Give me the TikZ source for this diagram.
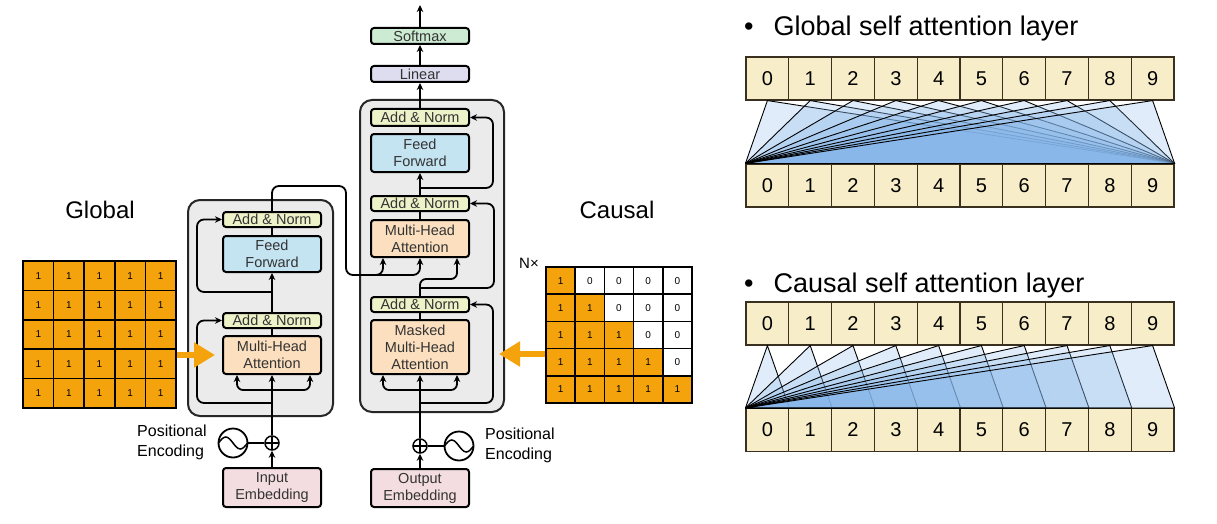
\documentclass[tikz,border=0pt]{standalone}
\usepackage{fontspec}
\setmainfont{Liberation Sans}
\usetikzlibrary{arrows.meta,positioning}
\definecolor{normfill}{HTML}{EEF2C8}
\definecolor{fffill}{HTML}{C4E4F2}
\definecolor{attfill}{HTML}{FBDFBF}
\definecolor{embfill}{HTML}{F3DDE0}
\definecolor{linfill}{HTML}{DEDDF0}
\definecolor{softfill}{HTML}{CDEAD3}
\definecolor{layerfill}{HTML}{EBEBEB}
\definecolor{labelgray}{HTML}{333333}
\definecolor{maskorange}{HTML}{F5A30C}
\definecolor{tokfill}{HTML}{F7EDC8}
\definecolor{tokline}{HTML}{3A3020}
\definecolor{fanblue}{RGB}{80,150,225}

\begin{document}
\begin{tikzpicture}[x=1pt,y=-1pt,>={Stealth[length=7pt,width=6.5pt]}]
\tikzstyle{block}=[draw=black,line width=2pt,rounded corners=3pt,minimum width=98pt,inner sep=0pt,align=center,text=labelgray,font=\fontsize{14.5}{17}\selectfont]
\tikzstyle{layerbox}=[draw=black!85,fill=layerfill,line width=2pt,rounded corners=12pt]
\tikzstyle{wire}=[line width=1.8pt]
\tikzstyle{flow}=[wire,->]
\tikzstyle{resid}=[flow,rounded corners=7pt]
\tikzstyle{addop}=[circle,draw,fill=white,line width=1.5pt,minimum size=14pt,inner sep=0pt,path picture={\draw[line width=1.3pt] (path picture bounding box.north) -- (path picture bounding box.south) (path picture bounding box.west) -- (path picture bounding box.east);}]
\tikzstyle{wave}=[circle,draw,fill=white,line width=1.8pt,minimum size=29pt,inner sep=0pt,path picture={\draw[line width=1.5pt] ([xshift=-14.5pt]path picture bounding box.center) sin ++(7.25pt,6pt) cos ++(7.25pt,-6pt) sin ++(7.25pt,-6pt) cos ++(7.25pt,6pt);}]
\tikzstyle{mcell}=[draw=black,line width=1.5pt,minimum width=30.6pt,minimum height=29.4pt,inner sep=0pt,font=\fontsize{10}{12}\selectfont]
\tikzstyle{ccell}=[mcell,minimum width=29.2pt,minimum height=27.2pt]
\tikzstyle{tok}=[draw=tokline,fill=tokfill,line width=1.1pt,minimum width=42.8pt,minimum height=43pt,inner sep=0pt,font=\fontsize{20}{24}\selectfont]
\tikzstyle{fan}=[draw=black,line width=0.9pt,fill=fanblue!70!white,fill opacity=0.25,line join=round]
\tikzstyle{maskarrow}=[draw=maskorange,line width=6pt,-{Triangle[length=21pt,width=24pt]}]
\tikzstyle{title}=[font=\fontsize{24}{28}\selectfont]
\tikzstyle{heading}=[anchor=base west,inner sep=0pt,font=\fontsize{27}{32}\selectfont]
\tikzstyle{pelabel}=[anchor=west,align=left,inner sep=0pt,font=\fontsize{16}{20}\selectfont]

\useasboundingbox (0,0) rectangle (1217,524);
\fill[white] (0,0) rectangle (1217,524);

\draw[layerbox] (188,200) rectangle (333,416);
\draw[layerbox] (360,100) rectangle (504,412);

\node[block,fill=normfill,minimum height=15pt] (eNorm2) at (272,219.5) {Add \& Norm};
\node[block,fill=fffill,minimum height=36pt] (eFF) at (272,254) {Feed\\Forward};
\node[block,fill=normfill,minimum height=15pt] (eNorm1) at (272,320.5) {Add \& Norm};
\node[block,fill=attfill,minimum height=38pt] (eAtt) at (272,355) {Multi-Head\\Attention};
\node[addop] (eAdd) at (272,443) {};
\node[wave] (eWave) at (233,443) {};
\node[block,fill=embfill,minimum height=39pt] (eEmb) at (272,487.5) {Input\\Embedding};
\node[pelabel] (ePos) at (137,442) {Positional\\Encoding};

\node[block,fill=softfill,minimum height=16pt] (dSoft) at (420,36) {Softmax};
\node[block,fill=linfill,minimum height=16pt] (dLin) at (420,74) {Linear};
\node[block,fill=normfill,minimum height=17pt] (dNorm3) at (420,117.5) {Add \& Norm};
\node[block,fill=fffill,minimum height=38pt] (dFF) at (420,153) {Feed\\Forward};
\node[block,fill=normfill,minimum height=15pt] (dNorm2) at (420,203.5) {Add \& Norm};
\node[block,fill=attfill,minimum height=37pt] (dAtt) at (420,238.5) {Multi-Head\\Attention};
\node[block,fill=normfill,minimum height=15pt] (dNorm1) at (420,304.5) {Add \& Norm};
\node[block,fill=attfill,minimum height=54pt] (dMask) at (420,347) {Masked\\Multi-Head\\Attention};
\node[addop] (dAdd) at (420,446) {};
\node[wave] (dWave) at (459,446) {};
\node[block,fill=embfill,minimum height=38pt] (dEmb) at (420,488) {Output\\Embedding};
\node[pelabel] (dPos) at (485,445) {Positional\\Encoding};

\coordinate (eFork) at (272,390);
\coordinate (eQ) at (237,375);
\coordinate (eV) at (310,375);
\coordinate (eRes1) at (272,403);
\coordinate (eBend1) at (197,403);
\coordinate (eRes2) at (272,292);
\coordinate (eBend2) at (197,292);
\coordinate (xA) at (346,186);
\coordinate (xB) at (346,275);
\coordinate (xC) at (368,275);
\coordinate (dK) at (383,258);
\coordinate (dV) at (420,258);
\coordinate (dQturn) at (457,279);
\coordinate (dQ) at (457,258);
\coordinate (dRes2) at (420,288);
\coordinate (dBend2) at (494,288);
\coordinate (dFork) at (420,390);
\coordinate (dQ1) at (383,375);
\coordinate (dQ2) at (457,375);
\coordinate (dRes1) at (420,403);
\coordinate (dBend1) at (493,403);
\coordinate (dRes3) at (420,188);
\coordinate (dBend3) at (493,188);
\coordinate (dOut) at (420,5);

\draw[flow] (eEmb) -- (eAdd);
\draw[flow] (eAdd) -- (eAtt);
\draw[wire] (eWave) -- (eAdd);
\draw[flow,rounded corners=6pt] (eFork) -| (eQ);
\draw[flow,rounded corners=6pt] (eFork) -| (eV);
\draw[resid] (eRes1) -- (eBend1) |- (eNorm1.west);
\draw[wire] (eAtt) -- (eNorm1);
\draw[flow] (eNorm1) -- (eFF);
\draw[resid] (eRes2) -- (eBend2) |- (eNorm2.west);
\draw[wire] (eFF) -- (eNorm2);
\draw[resid] (eNorm2.north) |- (xA) -- (xB) -| (dK);
\draw[resid] (xC) -| (dV);

\draw[flow] (dEmb) -- (dAdd);
\draw[flow] (dAdd) -- (dMask);
\draw[wire] (dAdd) -- (dWave);
\draw[flow,rounded corners=6pt] (dFork) -| (dQ1);
\draw[flow,rounded corners=6pt] (dFork) -| (dQ2);
\draw[resid] (dRes1) -- (dBend1) |- (dNorm1.east);
\draw[wire] (dMask) -- (dNorm1);
\draw[flow,rounded corners=6pt] (dNorm1.north) |- (dQturn) -- (dQ);
\draw[resid] (dRes2) -- (dBend2) |- (dNorm2.east);
\draw[wire] (dAtt) -- (dNorm2);
\draw[flow] (dNorm2) -- (dFF);
\draw[resid] (dRes3) -- (dBend3) |- (dNorm3.east);
\draw[wire] (dFF) -- (dNorm3);
\draw[flow] (dNorm3) -- (dLin);
\draw[flow] (dLin) -- (dSoft);
\draw[flow] (dSoft) -- (dOut);

\foreach \r in {1,...,5}
  \foreach \c in {1,...,5}
    \node[mcell,fill=maskorange] (gm-\r-\c) at ({23+30.6*(\c-0.5)},{261+29.4*(\r-0.5)}) {1};
\foreach \r in {1,...,5}{
  \foreach \c in {1,...,5}{
    \ifnum\c>\r
      \node[ccell,fill=white] (cm-\r-\c) at ({546+29.2*(\c-0.5)},{267+27.2*(\r-0.5)}) {0};
    \else
      \node[ccell,fill=maskorange] (cm-\r-\c) at ({546+29.2*(\c-0.5)},{267+27.2*(\r-0.5)}) {1};
    \fi
  }
}

\coordinate (cTip) at (499,354);
\draw[maskarrow,shorten >=7pt] (gm-4-5.east |- eAtt.west) -- (eAtt.west);
\draw[maskarrow] (cm-4-1.west |- cTip) -- (cTip);

\node[title] (gTitle) at (100,210) {Global};
\node[title] (cTitle) at (617,210) {Causal};
\node[font=\fontsize{15}{17}\selectfont] (nTimes) at (529,263) {N×};

\foreach \i in {0,...,9}{
  \node[tok] (gt\i) at ({746+42.8*(\i+0.5)},78.5) {\i};
  \node[tok] (gb\i) at ({746+42.8*(\i+0.5)},185.5) {\i};
  \node[tok] (ct\i) at ({746+42.8*(\i+0.5)},323.5) {\i};
  \node[tok] (cb\i) at ({746+42.8*(\i+0.5)},430) {\i};
}
\foreach \i in {0,...,9}
  \draw[fan] (gb0.north west) -- (gt\i.south) -- (gb9.north east) -- cycle;
\foreach \i in {0,...,9}
  \draw[fan] (cb0.north west) -- (ct\i.south) -- (cb\i.north east) -- cycle;

\node[heading] (gHead) at (744,36) {\textbullet\hspace{20pt}Global self attention layer};
\node[heading] (cHead) at (744,292) {\textbullet\hspace{20pt}Causal self attention layer};
\end{tikzpicture}
\end{document}
